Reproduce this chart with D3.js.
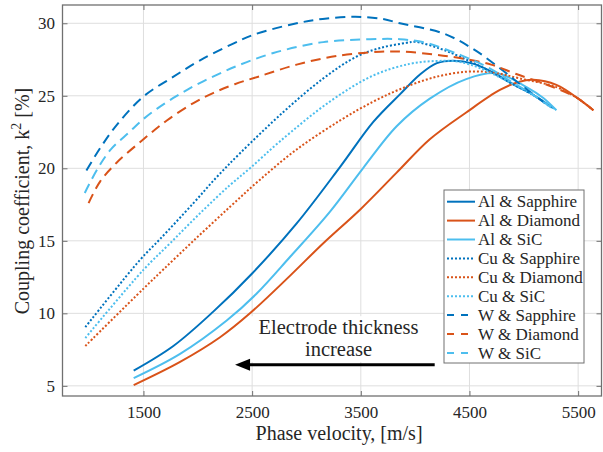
<!DOCTYPE html>
<html>
<head>
<meta charset="utf-8">
<script src="https://cdn.jsdelivr.net/npm/d3@7"></script>
<style>
body { margin: 0; background: #fff; }
text { font-family: "Liberation Serif", "Times New Roman", serif; fill: #262626; }
</style>
</head>
<body>
<div id="chart"></div>
<script>
// k^2 [%] vs phase velocity [m/s]
var alSapphire = [[1410,6.05],[1775,7.75],[2140,10.1],[2500,12.75],[2910,16.2],[3310,20.1],[3615,23.2],[3860,25.1],[4050,26.5],[4200,27.25],[4350,27.42],[4540,27.2],[4720,26.6],[4900,25.8],[5100,25.0],[5270,24.15]];
var alDiamond = [[1410,5.05],[1837,6.65],[2205,8.35],[2480,10.0],[2850,12.6],[3150,14.8],[3500,17.2],[3830,19.7],[4135,22.0],[4470,23.85],[4780,25.4],[4960,25.97],[5085,26.1],[5300,25.75],[5520,24.7],[5640,24.0]];
var alSiC = [[1410,5.53],[1837,7.2],[2266,9.5],[2540,11.35],[2850,13.9],[3215,17.0],[3520,20.0],[3830,22.9],[4135,24.8],[4470,26.15],[4750,26.55],[5025,25.6],[5180,24.85],[5300,24.0]];
var cuSapphire = [[965,9.05],[1470,13.7],[1650,15.1],[1960,17.6],[2175,19.4],[2390,21.05],[2790,23.9],[3155,26.2],[3460,27.7],[3680,28.3],[3920,28.65],[4000,28.72],[4230,28.25],[4410,27.7],[4660,26.8],[4900,25.8],[5100,25.0],[5250,24.2]];
var cuDiamond = [[965,7.75],[1500,11.7],[1680,13.0],[1960,15.0],[2297,17.35],[2570,19.2],[2910,21.3],[3310,23.3],[3615,24.6],[3860,25.45],[4165,26.25],[4470,26.66],[4720,26.6],[4960,26.2],[5300,25.6],[5500,24.8],[5640,24.0]];
var cuSiC = [[965,8.3],[1500,13.0],[1745,14.83],[2021,16.9],[2297,18.85],[2480,20.0],[2755,21.85],[3215,24.6],[3615,26.4],[3950,27.2],[4200,27.4],[4400,27.35],[4600,26.9],[4850,26.0],[5100,25.0],[5280,24.1]];
var wSapphire = [[975,19.85],[1102,21.4],[1255,23.0],[1500,24.95],[1773,26.3],[2021,27.45],[2326,28.6],[2510,29.2],[2880,29.95],[3150,30.3],[3450,30.45],[3700,30.3],[3860,30.0],[4260,29.3],[4540,28.2],[4780,26.9],[5000,25.6],[5230,24.3]];
var wDiamond = [[995,17.6],[1102,19.1],[1255,20.4],[1500,22.0],[1715,23.3],[1960,24.5],[2145,25.2],[2340,25.8],[2570,26.35],[2910,27.15],[3280,27.75],[3680,28.04],[3890,28.04],[4170,27.85],[4410,27.6],[4700,27.15],[4930,26.5],[5200,25.8],[5480,24.9],[5640,24.0]];
var wSiC = [[960,18.3],[1080,20.0],[1200,21.3],[1370,22.5],[1500,23.4],[1623,24.1],[1775,24.85],[1910,25.45],[2050,26.0],[2205,26.55],[2358,27.05],[2695,27.95],[3155,28.7],[3585,28.9],[3860,28.9],[4100,28.65],[4420,27.8],[4660,27.0],[4900,25.9],[5100,25.0],[5270,24.1]];

var names = ["Al & Sapphire","Al & Diamond","Al & SiC","Cu & Sapphire","Cu & Diamond","Cu & SiC","W & Sapphire","W & Diamond","W & SiC"];
var xTicks = [1500, 2500, 3500, 4500, 5500];
var yTicks = [5, 10, 15, 20, 25, 30];

var blue = "#0072BD", orange = "#D95319", cyan = "#4DBEEE";
var series = [
  {name: names[0], data: alSapphire, color: blue,   style: "solid"},
  {name: names[1], data: alDiamond,  color: orange, style: "solid"},
  {name: names[2], data: alSiC,      color: cyan,   style: "solid"},
  {name: names[3], data: cuSapphire, color: blue,   style: "dot"},
  {name: names[4], data: cuDiamond,  color: orange, style: "dot"},
  {name: names[5], data: cuSiC,      color: cyan,   style: "dot"},
  {name: names[6], data: wSapphire,  color: blue,   style: "dash"},
  {name: names[7], data: wDiamond,   color: orange, style: "dash"},
  {name: names[8], data: wSiC,       color: cyan,   style: "dash"}
];
var dashes = {solid: null, dot: "2,2", dash: "10,6"};

var margin = {top: 5, right: 1.5, bottom: 56, left: 62.5},
    width = 603 - margin.left - margin.right,
    height = 452 - margin.top - margin.bottom;

var svg = d3.select("#chart")
  .append("svg")
    .attr("width", 603)
    .attr("height", 452)
  .append("g")
    .attr("transform", "translate(" + margin.left + "," + margin.top + ")");

var x = d3.scaleLinear().domain([755, 5715]).range([0, width]);
var y = d3.scaleLinear().domain([4.3, 31.26]).range([height, 0]);

// grid
svg.append("g").selectAll("line").data(xTicks).enter().append("line")
  .attr("x1", function(d) { return x(d); }).attr("x2", function(d) { return x(d); })
  .attr("y1", 0).attr("y2", height)
  .attr("stroke", "#dedede").attr("stroke-width", 1);
svg.append("g").selectAll("line").data(yTicks).enter().append("line")
  .attr("y1", function(d) { return y(d); }).attr("y2", function(d) { return y(d); })
  .attr("x1", 0).attr("x2", width)
  .attr("stroke", "#dedede").attr("stroke-width", 1);

// axes, ticks inside like matlab
var xAxis = svg.append("g")
  .attr("transform", "translate(0," + height + ")")
  .call(d3.axisBottom(x).tickValues(xTicks).tickFormat(d3.format("d")).tickSizeInner(-5).tickSizeOuter(0).tickPadding(10));
var yAxis = svg.append("g")
  .call(d3.axisLeft(y).tickValues(yTicks).tickFormat(d3.format("d")).tickSizeInner(-5).tickSizeOuter(0).tickPadding(7.5));
var topAxis = svg.append("g")
  .call(d3.axisTop(x).tickValues(xTicks).tickSizeInner(-5).tickSizeOuter(0).tickFormat(""));
var rightAxis = svg.append("g")
  .attr("transform", "translate(" + width + ",0)")
  .call(d3.axisRight(y).tickValues(yTicks).tickSizeInner(-5).tickSizeOuter(0).tickFormat(""));
[xAxis, yAxis, topAxis, rightAxis].forEach(function(a) {
  a.select(".domain").remove();
  a.selectAll(".tick line").attr("stroke", "#707070");
  a.selectAll("text").attr("font-size", 17).attr("font-family", "Liberation Serif").attr("fill", "#262626");
});

svg.append("rect")
  .attr("width", width).attr("height", height)
  .attr("fill", "none").attr("stroke", "#707070").attr("stroke-width", 1.3);

// curves
svg.append("clipPath").attr("id", "clip")
  .append("rect").attr("width", width).attr("height", height);

var line = d3.line()
  .x(function(d) { return x(d[0]); })
  .y(function(d) { return y(d[1]); })
  .curve(d3.curveCatmullRom.alpha(0.5));

svg.append("g").attr("clip-path", "url(#clip)")
  .selectAll("path").data(series).enter().append("path")
    .attr("fill", "none")
    .attr("stroke", function(d) { return d.color; })
    .attr("stroke-width", 2)
    .attr("stroke-dasharray", function(d) { return dashes[d.style]; })
    .attr("d", function(d) { return line(d.data); });

// annotation: text box + arrow
var noteBox = {v0: 2480, v1: 4230, k0: 9.8, k1: 6.65};
svg.append("rect")
  .attr("x", x(noteBox.v0)).attr("y", y(noteBox.k0))
  .attr("width", x(noteBox.v1) - x(noteBox.v0))
  .attr("height", y(noteBox.k1) - y(noteBox.k0))
  .attr("fill", "#fff");
svg.append("text")
  .attr("x", x(3295)).attr("y", y(8.6))
  .attr("text-anchor", "middle").attr("font-size", 20.5).attr("fill", "#1a1a1a")
  .text("Electrode thickness");
svg.append("text")
  .attr("x", x(3295)).attr("y", y(7.05))
  .attr("text-anchor", "middle").attr("font-size", 20.5).attr("fill", "#1a1a1a")
  .text("increase");

var ay = y(6.45), ax0 = x(4180), ax1 = x(2343);
svg.append("line")
  .attr("x1", ax0).attr("x2", ax1 + 12).attr("y1", ay).attr("y2", ay)
  .attr("stroke", "#000").attr("stroke-width", 3);
svg.append("path")
  .attr("d", "M" + ax1 + "," + ay + "L" + (ax1 + 15) + "," + (ay - 6) + "L" + (ax1 + 15) + "," + (ay + 6) + "Z")
  .attr("fill", "#000");

// axis labels
svg.append("text")
  .attr("x", x(3300)).attr("y", height + 44)
  .attr("text-anchor", "middle").attr("font-size", 20)
  .text("Phase velocity, [m/s]");

var ylab = svg.append("text")
  .attr("transform", "translate(" + (28.5 - margin.left) + "," + (201 - margin.top) + ") rotate(-90)")
  .attr("text-anchor", "middle").attr("font-size", 20);
ylab.append("tspan").text("Coupling coefficient, k");
ylab.append("tspan").attr("dy", -8).attr("font-size", 14).text("2");
ylab.append("tspan").attr("dy", 8).text(" [%]");

// legend
var legend = svg.append("g")
  .attr("transform", "translate(" + (444 - margin.left) + "," + (190 - margin.top) + ")");
legend.append("rect")
  .attr("width", 140).attr("height", 173)
  .attr("fill", "#fff").attr("stroke", "#707070").attr("stroke-width", 1);
var item = legend.selectAll(".item").data(series).enter().append("g")
  .attr("transform", function(d, i) { return "translate(0," + (11.7 + i * 18.9) + ")"; });
item.append("line")
  .attr("x1", 3).attr("x2", function(d) { return d.style == "dash" ? 24 : 31; })
  .attr("stroke", function(d) { return d.color; })
  .attr("stroke-width", 2)
  .attr("stroke-dasharray", function(d) { return d.style == "dash" ? "7,7" : dashes[d.style]; });
item.append("text")
  .attr("x", 34).attr("dy", "0.33em")
  .attr("font-size", 17).attr("fill", "#1a1a1a")
  .text(function(d) { return d.name; });
</script>
</body>
</html>
